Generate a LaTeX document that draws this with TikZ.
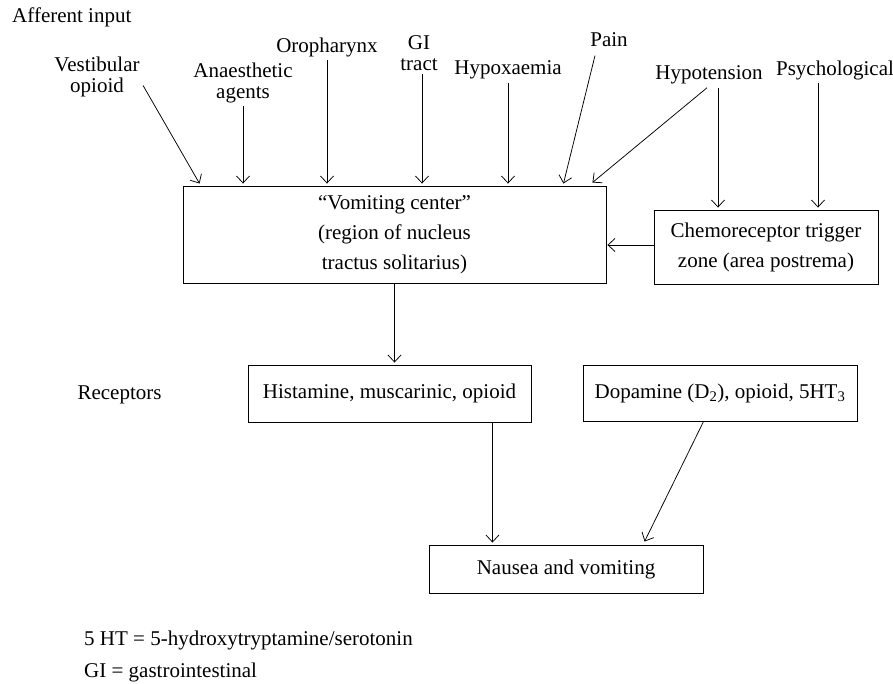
\documentclass[tikz,border=0pt]{standalone}
\usepackage{fontspec}
\setmainfont{Liberation Serif}
\usetikzlibrary{arrows.meta}

\tikzset{
  lbl/.style={font=\fontsize{21}{21}\selectfont, align=center},
  blk/.style={draw, line width=0.9pt, font=\fontsize{21}{30}\selectfont, align=center, inner sep=0pt},
  arr/.style={-{Straight Barb[length=7pt,width=13pt]}, line width=0.75pt}
}

\begin{document}
\begin{tikzpicture}[x=1pt,y=-1pt]
\useasboundingbox (0,0) rectangle (893,684);

% inputs
\node [lbl, anchor=west] (aff) at (8.7,17) {Afferent input};
\node [lbl] (vest) at (97,77) {Vestibular\\opioid};
\node [lbl] (anaes) at (243,82.5) {Anaesthetic\\agents};
\node [lbl] (oro) at (327,47) {Oropharynx};
\node [lbl] (gi) at (419,53) {GI\\tract};
\node [lbl] (hypox) at (508,70) {Hypoxaemia};
\node [lbl] (pain) at (609,40) {Pain};
\node [lbl] (hypot) at (709,75) {Hypotension};
\node [lbl] (psych) at (835,70) {Psychological};

% boxes
\node [blk, minimum width=423pt, minimum height=97pt] (vc) at (394.5,234.5)
      {“Vomiting center”\\(region of nucleus\\tractus solitarius)};
\node [blk, minimum width=224pt, minimum height=74pt] (ctz) at (766,247)
      {Chemoreceptor trigger\\zone (area postrema)};
\node [lbl, anchor=west] (rec) at (74,395) {Receptors};
\node [blk, minimum width=283pt, minimum height=57pt] (hist) at (389.5,393.5)
      {Histamine, muscarinic, opioid};
\node [blk, minimum width=274pt, minimum height=56pt] (dopa) at (720,393)
      {Dopamine (D\textsubscript{2}), opioid, 5HT\textsubscript{3}};
\node [blk, minimum width=274pt, minimum height=48pt] (nv) at (566,569)
      {Nausea and vomiting};

% notes
\node [lbl, anchor=west] (note1) at (80.7,640) {5 HT = 5-hydroxytryptamine/serotonin};
\node [lbl, anchor=west] (note2) at (80.7,672) {GI = gastrointestinal};

% connectors
\draw [arr] ([yshift=15pt]vest.south east) -- ([xshift=17pt,yshift=2pt]vc.north west);
\draw [arr] (anaes.south) -- ([yshift=2pt]anaes.south |- vc.north);
\draw [arr] (oro.south) -- ([yshift=2pt]oro.south |- vc.north);
\draw [arr] ([xshift=3pt]gi.south) -- ([xshift=3pt,yshift=2pt]gi.south |- vc.north);
\draw [arr] (hypox.south) -- ([yshift=2pt]hypox.south |- vc.north);
\draw [arr] ([xshift=-14pt,yshift=-5pt]pain.south) -- ([xshift=-43pt,yshift=2pt]vc.north east);
\draw [arr] ([xshift=-2pt]hypot.south) -- ([xshift=-14pt,yshift=3pt]vc.north east);
\draw [arr] ([xshift=9pt]hypot.south) -- ([xshift=9pt,yshift=2pt]hypot.south |- ctz.north);
\draw [arr] ([xshift=-17pt]psych.south) -- ([xshift=-17pt,yshift=2pt]psych.south |- ctz.north);
\draw [arr] ([yshift=2pt]ctz.west) -- ([xshift=1pt,yshift=2pt]ctz.west -| vc.east);
\draw [arr] (vc.south) -- ([yshift=2pt]vc.south |- hist.north);
\draw [arr] ([xshift=-39pt]hist.south east) -- ([xshift=-39pt,yshift=2pt]hist.south east |- nv.north);
\draw [arr] ([xshift=121pt]dopa.south west) -- ([xshift=216pt,yshift=3pt]nv.north west);
\end{tikzpicture}
\end{document}
